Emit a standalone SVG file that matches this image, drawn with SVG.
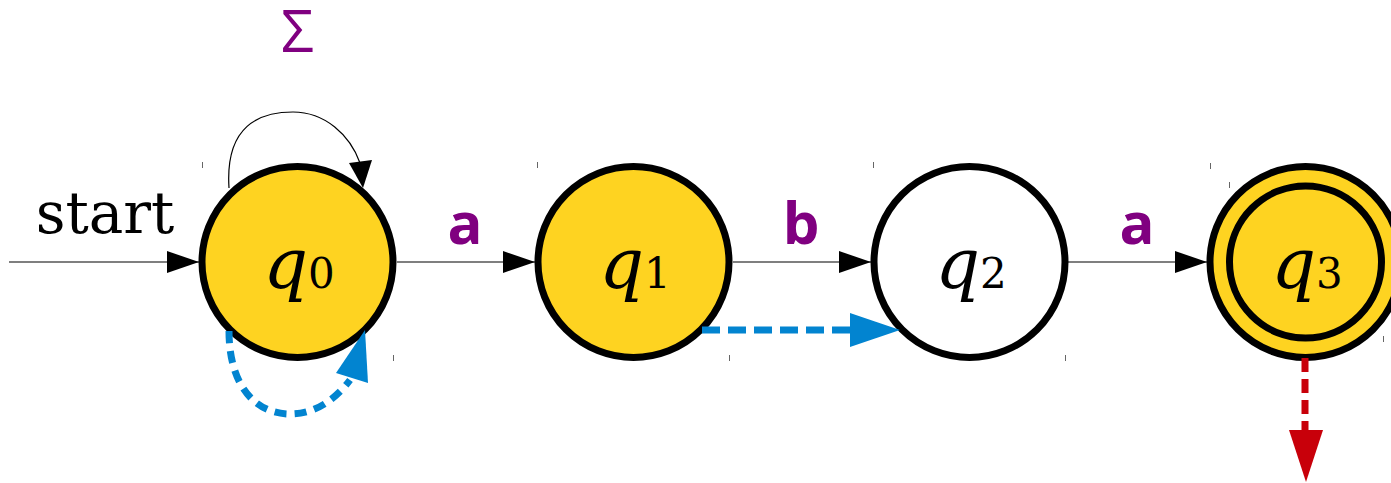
<svg xmlns="http://www.w3.org/2000/svg" width="1391" height="483" viewBox="0 0 1391 483">
<defs>
<style>
.state{stroke:#000;stroke-width:7}
.acc{fill:#FED321}
.rej{fill:#fff}
.edge{stroke:#555;stroke-width:1.5;fill:none}
.q{font-family:"DejaVu Serif",serif;font-style:italic;font-size:70px;fill:#000}
.sub{font-family:"DejaVu Serif",serif;font-style:normal;font-size:42px}
.lbl{font-family:"Open Sans","Noto Sans",sans-serif;font-weight:700;font-size:58px;fill:#800080;text-anchor:middle}
.tick{stroke:#666;stroke-width:1}
</style>
<marker id="ah" markerWidth="32" markerHeight="22" refX="32" refY="11" orient="auto" markerUnits="userSpaceOnUse">
<path d="M0,0 L32,11 L0,22 Z" fill="#000"/>
</marker>
</defs>
<rect width="1391" height="483" fill="#fff"/>
<g id="ticks">
<line class="tick" x1="202.5" y1="162" x2="202.5" y2="168"/>
<line class="tick" x1="393.5" y1="355" x2="393.5" y2="361"/>
<line class="tick" x1="537.5" y1="162" x2="537.5" y2="168"/>
<line class="tick" x1="729.5" y1="355" x2="729.5" y2="361"/>
<line class="tick" x1="873.5" y1="162" x2="873.5" y2="168"/>
<line class="tick" x1="1065.5" y1="355" x2="1065.5" y2="361"/>
<line class="tick" x1="1210.5" y1="163" x2="1210.5" y2="169"/>
<line class="tick" x1="1229.5" y1="182" x2="1229.5" y2="188"/>
<line class="tick" x1="1383.5" y1="336" x2="1383.5" y2="342"/>
</g>
<g id="connectors">
<line class="edge" x1="9" y1="262" x2="199" y2="262" marker-end="url(#ah)"/>
<line class="edge" x1="397" y1="262" x2="535" y2="262" marker-end="url(#ah)"/>
<line class="edge" x1="733" y1="262" x2="871" y2="262" marker-end="url(#ah)"/>
<line class="edge" x1="1068" y1="262" x2="1207" y2="262" marker-end="url(#ah)"/>
<path d="M229,188 C225,125 260,112 293,112 C325,112 350,135 360,163" fill="none" stroke="#000" stroke-width="1.2"/>
<polygon points="363,188 349,163 372,160" fill="#000"/>
</g>
<g id="q0">
<circle class="state acc" cx="297.5" cy="262" r="95.5"/>
<text class="q" x="299" y="288" text-anchor="middle">q<tspan class="sub">0</tspan></text>
</g>
<g id="q1">
<circle class="state acc" cx="633.5" cy="262" r="95.5"/>
<text class="q" x="635" y="288" text-anchor="middle">q<tspan class="sub">1</tspan></text>
</g>
<g id="q2">
<circle class="state rej" cx="969.5" cy="262" r="95.5"/>
<text class="q" x="971" y="288" text-anchor="middle">q<tspan class="sub">2</tspan></text>
</g>
<g id="q3">
<circle class="state acc" cx="1305.5" cy="262" r="95.5"/>
<circle cx="1305.5" cy="262" r="76" fill="none" stroke="#000" stroke-width="7"/>
<text class="q" x="1307" y="288" text-anchor="middle">q<tspan class="sub">3</tspan></text>
</g>
<g id="labels">
<text x="105" y="233" font-family="DejaVu Serif, serif" font-size="58" text-anchor="middle">start</text>
<text class="lbl" x="465" y="244">a</text>
<text class="lbl" x="801" y="244">b</text>
<text class="lbl" x="1137" y="244">a</text>
<text x="297.5" y="52" font-family="Open Sans, Noto Sans, sans-serif" font-size="58" fill="#800080" text-anchor="middle">Σ</text>
</g>
<g id="overlays">
<path d="M229,331 C229,385 255,414 290,414 C318,414 338,396 350,380" fill="none" stroke="#0284D0" stroke-width="7" stroke-dasharray="12 8"/>
<polygon points="365,330 336,373 368,383" fill="#0284D0"/>
<line x1="702" y1="330" x2="850" y2="330" stroke="#0284D0" stroke-width="7" stroke-dasharray="18 8"/>
<polygon points="900,330 850,313 850,347" fill="#0284D0"/>
<line x1="1305" y1="358" x2="1305" y2="432" stroke="#C8000A" stroke-width="7" stroke-dasharray="14 7"/>
<polygon points="1289,430 1323,430 1306,482" fill="#C8000A"/>
</g>
</svg>
